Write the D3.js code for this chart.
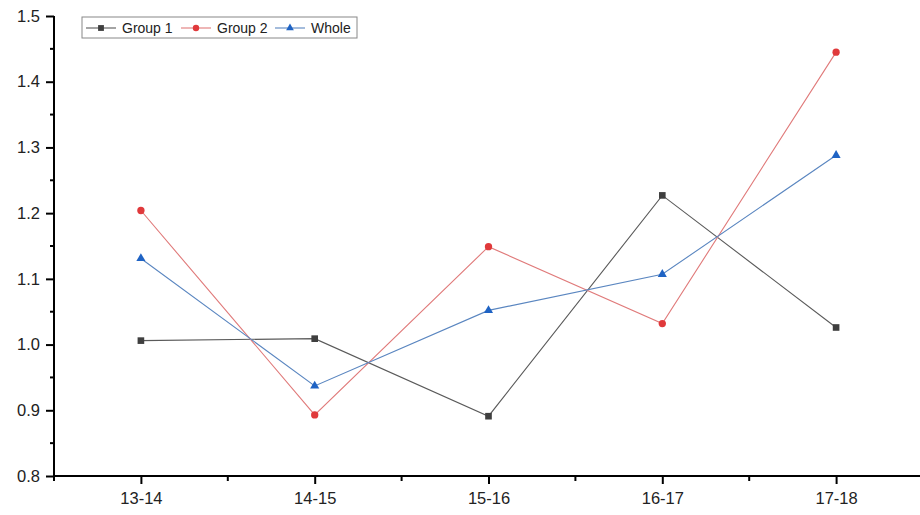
<!DOCTYPE html>
<html>
<head>
<meta charset="utf-8">
<script src="https://cdn.jsdelivr.net/npm/d3@7"></script>
<style>
  html, body { margin: 0; padding: 0; background: #fff; }
  svg { display: block; font-family: "Liberation Sans", Arial, sans-serif; }
</style>
</head>
<body>
<svg id="chart" width="920" height="515"></svg>
<script>
// Periods on the x axis
const periods = ["13-14", "14-15", "15-16", "16-17", "17-18"];
// Series values
const group1 = [1.006, 1.009, 0.891, 1.227, 1.026];
const group2 = [1.204, 0.893, 1.149, 1.032, 1.445];
const whole  = [1.131, 0.937, 1.052, 1.107, 1.288];
// Y tick labels
const yTicks = [0.8, 0.9, 1.0, 1.1, 1.2, 1.3, 1.4, 1.5];
const seriesNames = ["Group 1", "Group 2", "Whole"];

const series = [
  { name: seriesNames[0], values: group1, line: "#5a5a5a", fill: "#3f3f3f", symbol: d3.symbolSquare, size: 44 },
  { name: seriesNames[1], values: group2, line: "#e07a7a", fill: "#e0393b", symbol: d3.symbolCircle, size: 42 },
  { name: seriesNames[2], values: whole,  line: "#5a86c0", fill: "#1f63c4", symbol: d3.symbolTriangle, size: 36 }
];

const svg = d3.select("#chart");
const plotLeft = 54, plotRight = 923, plotTop = 16, plotBottom = 476;

const x = d3.scalePoint().domain(periods).range([plotLeft, plotRight]).padding(0.5);
const y = d3.scaleLinear().domain([0.8, 1.5]).range([plotBottom, plotTop]);

// Y axis with major and minor ticks
const yAxis = d3.axisLeft(y).tickValues(yTicks).tickFormat(d3.format(".1f")).tickSize(8).tickPadding(6);
const gy = svg.append("g").attr("transform", `translate(${plotLeft},0)`).call(yAxis);
gy.select(".domain").attr("stroke", "#000").attr("stroke-width", 2).attr("d", `M0,${plotBottom + 1}V${plotTop}`);
gy.selectAll(".tick line").attr("stroke", "#000").attr("stroke-width", 2);
gy.selectAll(".tick text").attr("font-size", 16.5).attr("fill", "#222");
const yMinor = d3.range(0.85, 1.5, 0.1);
svg.append("g").selectAll("line").data(yMinor).join("line")
  .attr("x1", plotLeft - 4).attr("x2", plotLeft)
  .attr("y1", d => y(d)).attr("y2", d => y(d))
  .attr("stroke", "#000").attr("stroke-width", 2);

// X axis with major and minor ticks
const xAxis = d3.axisBottom(x).tickSize(8).tickPadding(8);
const gx = svg.append("g").attr("transform", `translate(0,${plotBottom})`).call(xAxis);
gx.select(".domain").attr("stroke", "#000").attr("stroke-width", 2).attr("d", `M${plotLeft - 1},0H${plotRight}`);
gx.selectAll(".tick line").attr("stroke", "#000").attr("stroke-width", 2);
gx.selectAll(".tick text").attr("font-size", 16.5).attr("fill", "#222");
const step = x.step();
const xMinor = periods.slice(0, -1).map(p => x(p) + step / 2).concat([x(periods[0]) - step / 2]);
svg.append("g").selectAll("line").data(xMinor).join("line")
  .attr("x1", d => d).attr("x2", d => d)
  .attr("y1", plotBottom).attr("y2", plotBottom + 5)
  .attr("stroke", "#000").attr("stroke-width", 2);

// Lines and markers
const line = d3.line().x((d, i) => x(periods[i])).y(d => y(d));
series.forEach(s => {
  svg.append("path").datum(s.values)
    .attr("d", line).attr("fill", "none")
    .attr("stroke", s.line).attr("stroke-width", 1.1);
});
series.forEach(s => {
  svg.append("g").selectAll("path").data(s.values).join("path")
    .attr("d", d3.symbol().type(s.symbol).size(s.size))
    .attr("transform", (d, i) => `translate(${x(periods[i])},${y(d)})`)
    .attr("fill", s.fill);
});

// Legend
const lg = svg.append("g").attr("transform", "translate(82,17)");
lg.append("rect").attr("width", 275).attr("height", 21)
  .attr("fill", "#fff").attr("stroke", "#888").attr("stroke-width", 1);
const legendX = [4, 99, 193];
series.forEach((s, i) => {
  const g = lg.append("g").attr("transform", `translate(${legendX[i]},11)`);
  g.append("line").attr("x1", 0).attr("x2", 30).attr("stroke", s.line).attr("stroke-width", 1.1);
  g.append("path").attr("d", d3.symbol().type(s.symbol).size(s.size - 10)())
    .attr("transform", "translate(15,0)").attr("fill", s.fill);
  g.append("text").attr("x", 36).attr("y", 5).attr("font-size", 14).attr("fill", "#222").text(s.name);
});
</script>
</body>
</html>
